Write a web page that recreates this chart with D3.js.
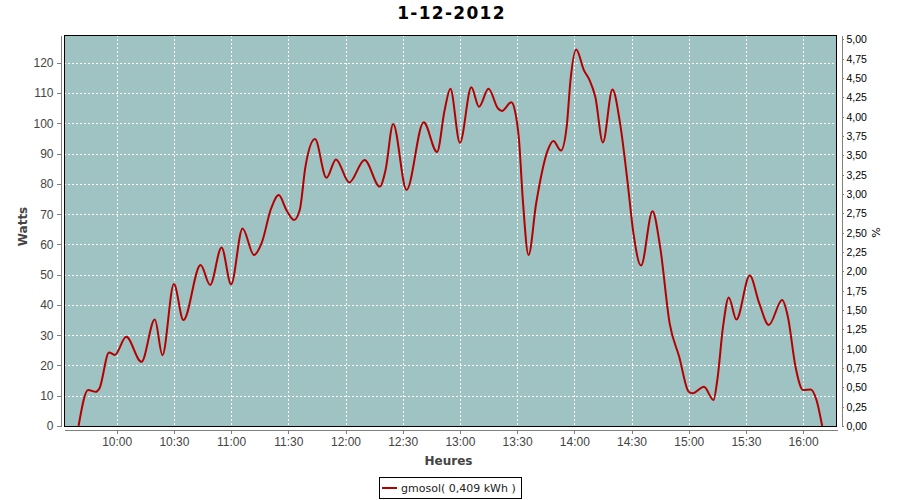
<!DOCTYPE html>
<html>
<head>
<meta charset="utf-8">
<script src="https://cdn.jsdelivr.net/npm/d3@7/dist/d3.min.js"></script>
<style>
  html, body { margin: 0; padding: 0; background: #fff; }
  svg { display: block; }
</style>
</head>
<body>
<svg id="chart" width="900" height="500"></svg>
<script>
// ---------- data ----------
const title = "1-12-2012";
const seriesName = "gmosol( 0,409 kWh )";
const times = [
  "09:40","09:45","09:49","09:51","09:56","09:59","10:05","10:13","10:20","10:24",
  "10:30","10:35","10:44","10:49","10:55","11:00","11:06","11:12","11:16","11:21",
  "11:25","11:29","11:33","11:36","11:39","11:44","11:50","11:55","12:02","12:10",
  "12:18","12:21","12:25","12:32","12:41","12:48","12:52","12:55","13:00","13:06",
  "13:10","13:15","13:20","13:22","13:27","13:29","13:31","13:33","13:36","13:40",
  "13:46","13:49","13:53","13:56","13:58","14:01","14:05","14:08","14:11","14:15",
  "14:20","14:24","14:28","14:31","14:35","14:41","14:45","14:50","14:55","15:00",
  "15:02","15:08","15:13","15:15","15:18","15:21","15:25","15:32","15:37","15:42",
  "15:49","15:52","15:56","16:00","16:04","16:07","16:10"
];
const watts = [
  0, 11.9, 11.3, 12.5, 24.3, 23.5, 29.5, 21.2, 35.2, 23.4,
  46.9, 35.0, 53.2, 46.6, 59.0, 46.8, 65.3, 56.5, 60.4, 71.9,
  76.3, 71.4, 68.1, 71.4, 85.7, 94.8, 82.0, 88.1, 80.5, 87.9,
  79.1, 84.6, 99.8, 78.0, 100.4, 90.5, 104.4, 111.4, 93.6, 111.9,
  105.5, 111.4, 104.9, 104.1, 107.0, 103.8, 94.5, 74.7, 56.5, 73.6,
  91.0, 94.2, 91.0, 98.9, 114.3, 124.4, 117.6, 114.3, 108.8, 93.7,
  111.2, 100.0, 80.2, 63.7, 53.0, 71.0, 59.2, 33.9, 22.9, 11.3,
  10.8, 13.0, 8.6, 15.2, 32.8, 42.5, 35.2, 49.7, 40.5, 33.4,
  41.6, 36.1, 19.6, 11.9, 12.1, 8.6, 0
];
const xExtent = ["09:32:22", "16:17:46"];
const xTickLabels = ["10:00","10:30","11:00","11:30","12:00","12:30","13:00","13:30","14:00","14:30","15:00","15:30","16:00"];
const leftTicks = [0,10,20,30,40,50,60,70,80,90,100,110,120];
const leftMax = 129.2;
const rightTicks = [0,0.25,0.5,0.75,1,1.25,1.5,1.75,2,2.25,2.5,2.75,3,3.25,3.5,3.75,4,4.25,4.5,4.75,5];
const rightMax = 5.058;

// ---------- layout ----------
const svg = d3.select("#chart");
const plot = { left: 64, right: 837, top: 35, bottom: 426 };
const parseT = d3.timeParse("%H:%M");
const parseTs = d3.timeParse("%H:%M:%S");

const x = d3.scaleTime()
  .domain(xExtent.map(parseTs))
  .range([plot.left, plot.right]);
const y = d3.scaleLinear().domain([0, leftMax]).range([plot.bottom, plot.top]);
const y2 = d3.scaleLinear().domain([0, rightMax]).range([plot.bottom, plot.top]);

const data = times.map((t, i) => ({ t: parseT(t), v: watts[i] }));
const xTicks = xTickLabels.map(parseT);

// background
svg.append("rect").attr("x", 0).attr("y", 0).attr("width", 900).attr("height", 500).attr("fill", "#fff");
svg.append("rect")
  .attr("x", plot.left).attr("y", plot.top)
  .attr("width", plot.right - plot.left).attr("height", plot.bottom - plot.top)
  .attr("fill", "#9fc3c2");

// grid
const grid = svg.append("g").attr("stroke", "#fff").attr("stroke-width", 1)
  .attr("stroke-dasharray", "2,2").attr("shape-rendering", "crispEdges");
grid.selectAll("line.v").data(xTicks).join("line")
  .attr("x1", d => Math.round(x(d)) + 0.5).attr("x2", d => Math.round(x(d)) + 0.5)
  .attr("y1", plot.top).attr("y2", plot.bottom);
grid.selectAll("line.h").data(leftTicks.filter(d => d > 0)).join("line")
  .attr("y1", d => Math.round(y(d)) + 0.5).attr("y2", d => Math.round(y(d)) + 0.5)
  .attr("x1", plot.left).attr("x2", plot.right);

// series line
const line = d3.line().x(d => x(d.t)).y(d => y(d.v)).curve(d3.curveMonotoneX);
svg.append("path").datum(data)
  .attr("d", line)
  .attr("fill", "none")
  .attr("stroke", "#b40000")
  .attr("stroke-width", 2)
  .attr("stroke-linejoin", "round");

// plot border
svg.append("rect")
  .attr("x", plot.left + 0.5).attr("y", plot.top + 0.5)
  .attr("width", plot.right - plot.left - 1).attr("height", plot.bottom - plot.top)
  .attr("fill", "none").attr("stroke", "#000").attr("stroke-width", 1)
  .attr("shape-rendering", "crispEdges");

// axes
const tickFont = "'Liberation Sans', Arial, sans-serif";
function styleAxis(g, color, size) {
  g.selectAll(".domain").attr("stroke", "#808080");
  g.selectAll(".tick line").attr("stroke", "#808080");
  g.selectAll(".tick text").attr("fill", color).style("font-family", tickFont).style("font-size", size + "px");
  g.attr("shape-rendering", "crispEdges");
}

const xAxis = svg.append("g").attr("transform", `translate(0,${plot.bottom + 4})`)
  .call(d3.axisBottom(x).tickValues(xTicks).tickFormat(d3.timeFormat("%H:%M"))
    .tickSizeInner(4).tickSizeOuter(0).tickPadding(3));
styleAxis(xAxis, "#444", 12);

const yAxis = svg.append("g").attr("transform", `translate(${plot.left - 3.5},0)`)
  .call(d3.axisLeft(y).tickValues(leftTicks).tickSizeInner(4).tickSizeOuter(0).tickPadding(3));
styleAxis(yAxis, "#444", 12);

const commaFmt = d => d3.format(".2f")(d).replace(".", ",");
const y2Axis = svg.append("g").attr("transform", `translate(${plot.right + 4.5},0)`)
  .call(d3.axisRight(y2).tickValues(rightTicks).tickFormat(commaFmt)
    .tickSizeInner(2).tickSizeOuter(0).tickPadding(3));
styleAxis(y2Axis, "#000", 10.5);

// title
svg.append("text")
  .attr("x", (plot.left + plot.right) / 2 + 1).attr("y", 19)
  .attr("text-anchor", "middle")
  .style("font-family", "'DejaVu Sans', sans-serif")
  .style("font-weight", "bold").style("font-size", "17px")
  .style("letter-spacing", "1.3px")
  .attr("fill", "#000")
  .text(title);

// axis labels
const labFont = "'DejaVu Sans', sans-serif";
svg.append("text")
  .attr("x", (plot.left + plot.right) / 2 - 2).attr("y", 465)
  .attr("text-anchor", "middle")
  .style("font-family", labFont).style("font-weight", "bold").style("font-size", "12px")
  .attr("fill", "#444").text("Heures");

svg.append("text")
  .attr("transform", `translate(26.5,${(plot.top + plot.bottom) / 2 - 4}) rotate(-90)`)
  .attr("text-anchor", "middle")
  .style("font-family", labFont).style("font-weight", "bold").style("font-size", "12px")
  .attr("fill", "#444").text("Watts");

svg.append("text")
  .attr("transform", `translate(880,${(plot.top + plot.bottom) / 2 + 2}) rotate(-90)`)
  .attr("text-anchor", "middle")
  .style("font-family", labFont).style("font-size", "11px")
  .attr("fill", "#000").text("%");

// legend
const lg = svg.append("g");
lg.append("rect").attr("x", 379.5).attr("y", 477.5).attr("width", 142).attr("height", 21)
  .attr("fill", "#fff").attr("stroke", "#000").attr("stroke-width", 1)
  .attr("shape-rendering", "crispEdges");
lg.append("line").attr("x1", 382).attr("x2", 397).attr("y1", 488).attr("y2", 488)
  .attr("stroke", "#b40000").attr("stroke-width", 2);
lg.append("text").attr("x", 401).attr("y", 492)
  .style("font-family", "'DejaVu Sans', sans-serif").style("font-size", "11px")
  .attr("fill", "#222").text(seriesName);
</script>
</body>
</html>
